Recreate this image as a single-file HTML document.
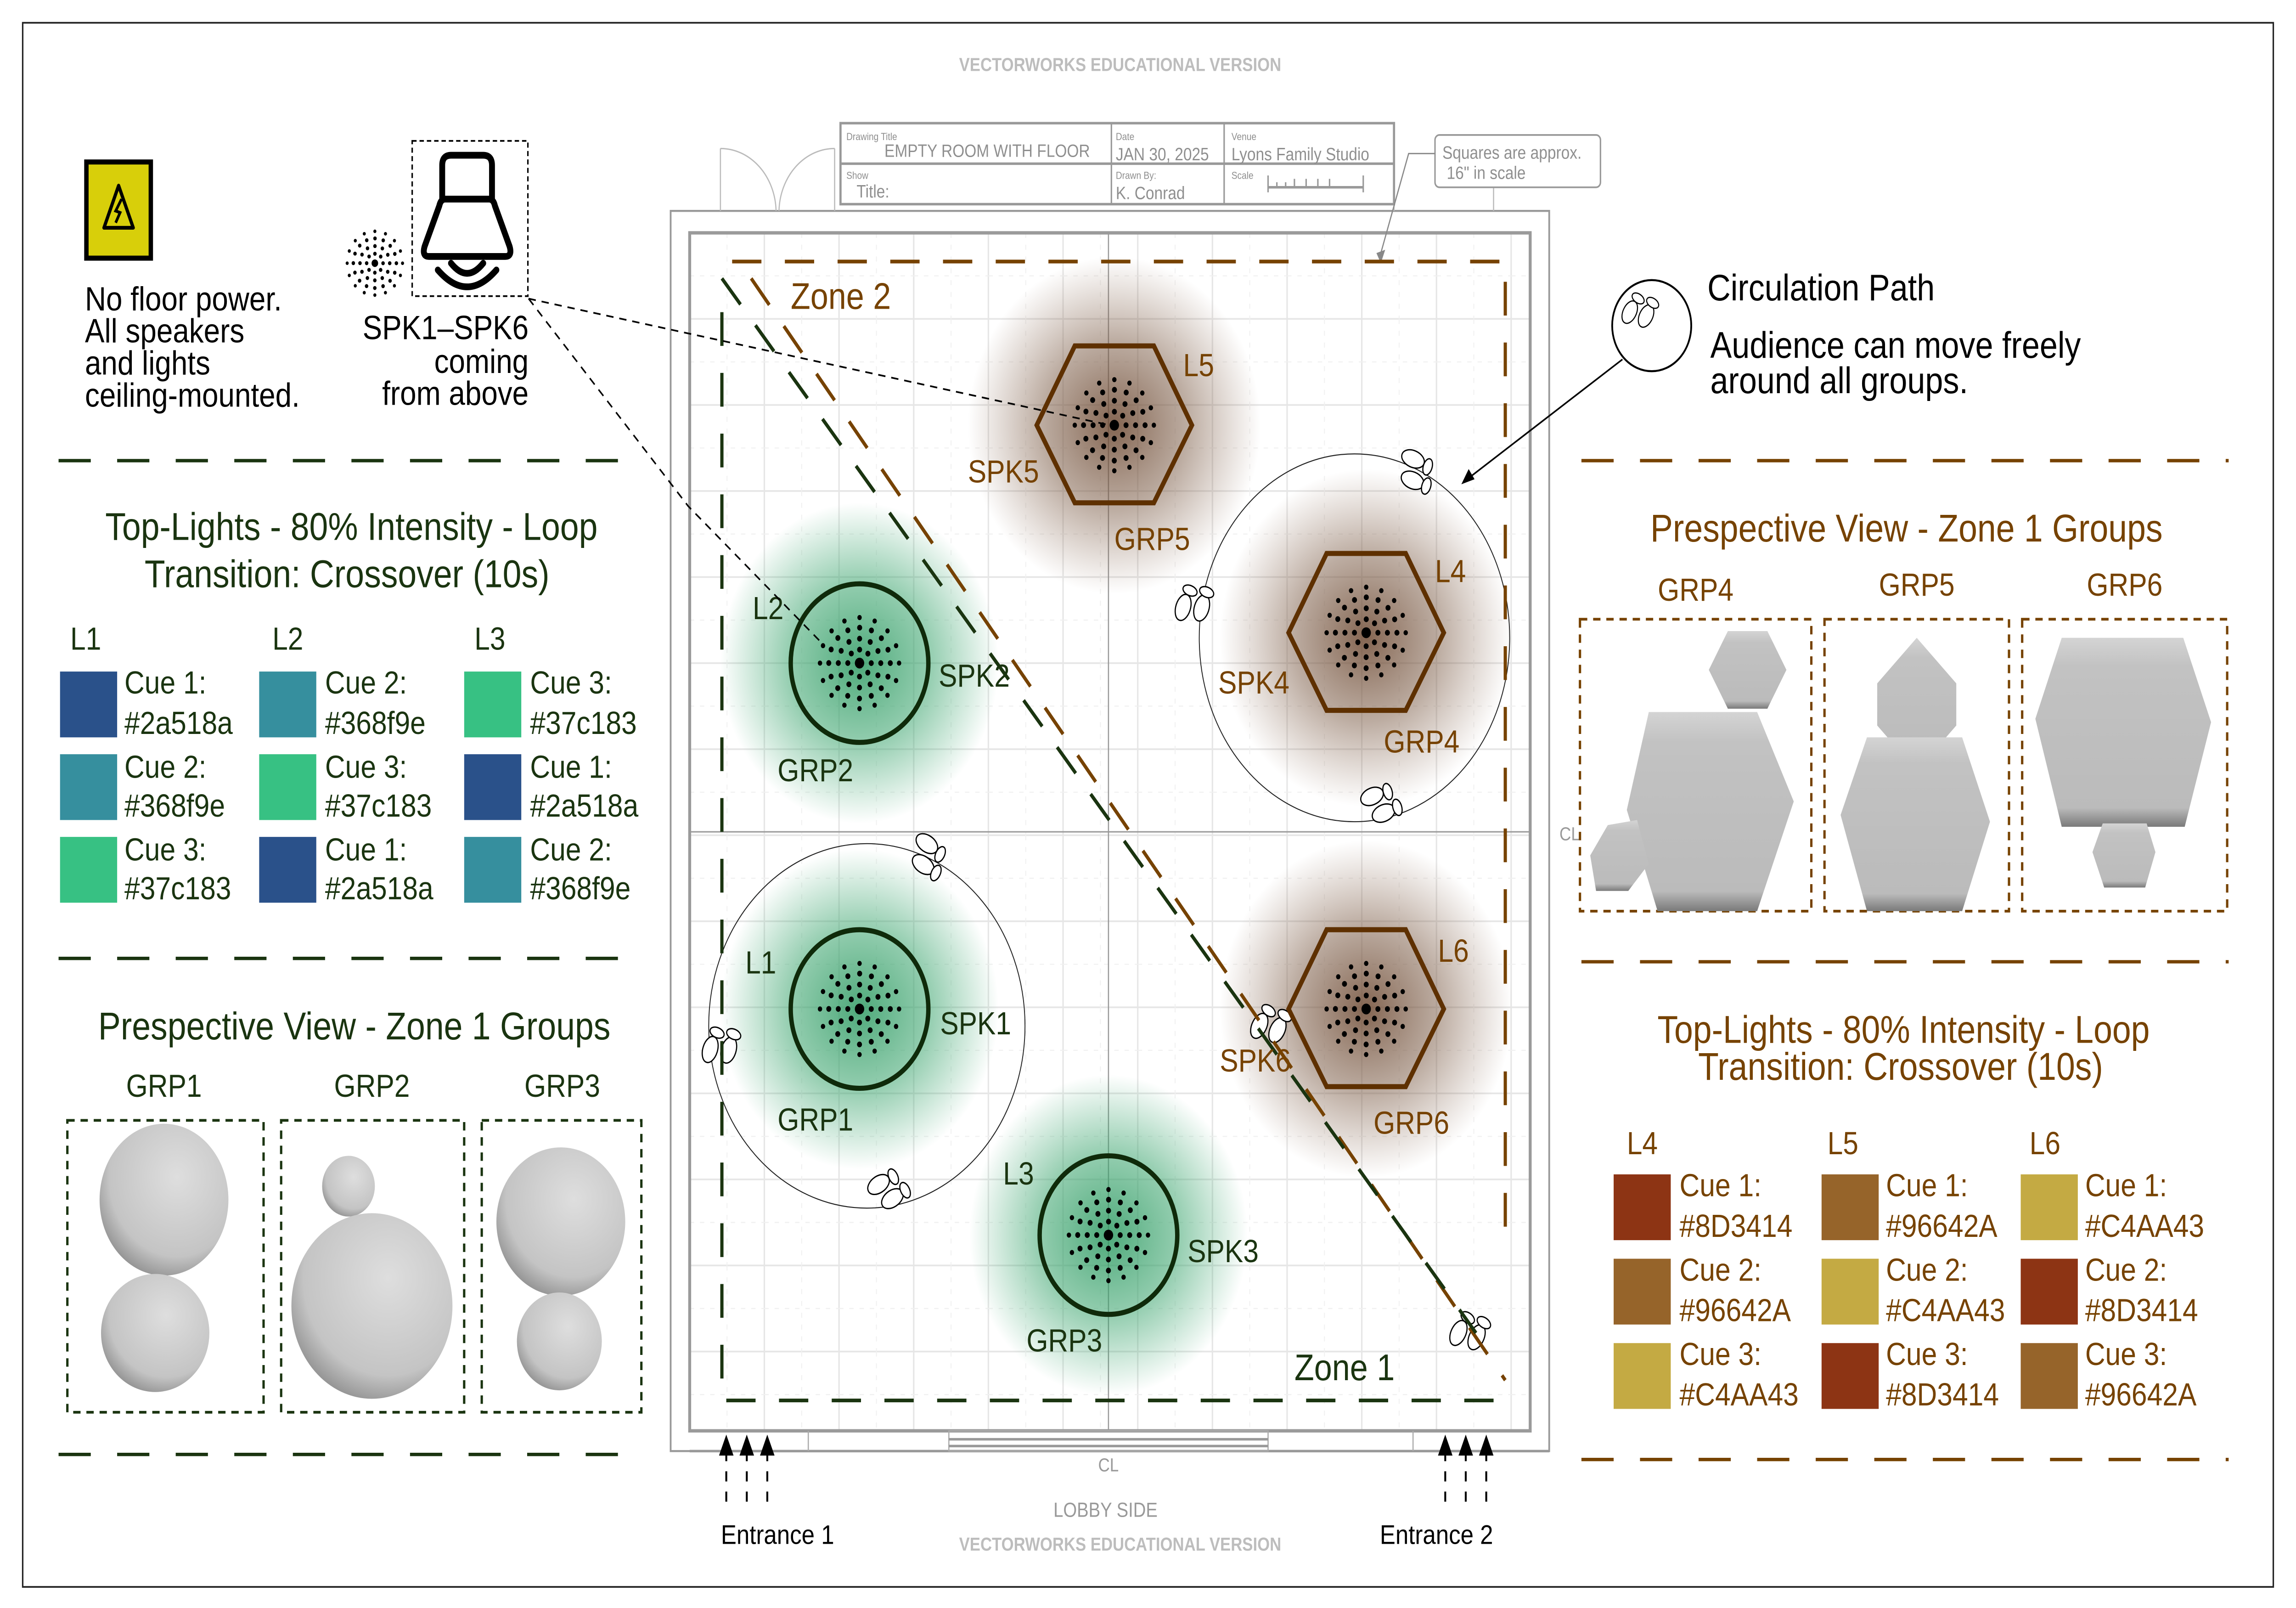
<!DOCTYPE html>
<html><head><meta charset="utf-8"><style>
html,body{margin:0;padding:0;background:#fff;width:100%;height:100%;overflow:hidden;}
svg{display:block;position:absolute;left:0;top:0;width:100vw;height:100vh;}
text{font-family:"Liberation Sans",sans-serif;}
.g{fill:#1a3410;} .b{fill:#764200;} .k{fill:#000;} .gr{fill:#8a8a8a;}
</style></head><body>
<svg xmlns="http://www.w3.org/2000/svg" viewBox="0 0 1568 953" preserveAspectRatio="none">
<defs>
<pattern id="grid" x="471" y="138" width="51" height="51" patternUnits="userSpaceOnUse">
<rect width="51" height="51" fill="none" stroke="#e6e6e6" stroke-width="1"/>
<line x1="25.5" y1="0" x2="25.5" y2="51" stroke="#f0f0f0" stroke-width="0.6" stroke-dasharray="3 4"/>
<line x1="0" y1="25.5" x2="51" y2="25.5" stroke="#f0f0f0" stroke-width="0.6" stroke-dasharray="3 4"/>
</pattern>
<radialGradient id="gglow"><stop offset="0" stop-color="#2f9a63" stop-opacity="0.85"/><stop offset="0.5" stop-color="#3aa46d" stop-opacity="0.55"/><stop offset="1" stop-color="#3aa46d" stop-opacity="0"/></radialGradient>
<radialGradient id="bglow"><stop offset="0" stop-color="#6e4a33" stop-opacity="0.85"/><stop offset="0.5" stop-color="#7a5a44" stop-opacity="0.5"/><stop offset="1" stop-color="#8a6a55" stop-opacity="0"/></radialGradient>
<radialGradient id="sph" cx="0.6" cy="0.35" r="0.75"><stop offset="0" stop-color="#dedede"/><stop offset="0.7" stop-color="#c4c4c4"/><stop offset="1" stop-color="#808080"/></radialGradient>
<linearGradient id="hexg" x1="0" y1="0" x2="0" y2="1"><stop offset="0" stop-color="#d4d4d4"/><stop offset="0.15" stop-color="#c2c2c2"/><stop offset="0.9" stop-color="#bbbbbb"/><stop offset="1" stop-color="#7a7a7a"/></linearGradient>
<g id="dots">
<circle r="3.2" fill="#000"/>
<circle r="8" fill="none" stroke="#000" stroke-width="3.4" stroke-linecap="round" stroke-dasharray="0 6.283"/>
<circle r="14.5" fill="none" stroke="#000" stroke-width="3.4" stroke-linecap="round" stroke-dasharray="0 7.59"/>
<circle r="21" fill="none" stroke="#000" stroke-width="3.4" stroke-linecap="round" stroke-dasharray="0 8.25"/>
<circle r="27" fill="none" stroke="#000" stroke-width="3" stroke-linecap="round" stroke-dasharray="0 10.6"/>
</g>
<g id="feet" fill="#fff" stroke="#000" stroke-width="0.8">
<ellipse cx="0" cy="0" rx="8" ry="5"/><ellipse cx="11" cy="1" rx="3" ry="5"/>
<ellipse cx="4" cy="12" rx="8" ry="5"/><ellipse cx="14" cy="12" rx="3" ry="5"/>
</g>
</defs>

<rect x="0" y="0" width="1568" height="953" fill="#fff"/>
<rect x="15.5" y="13.5" width="1537" height="927" fill="none" stroke="#222" stroke-width="1"/>

<text x="765" y="42" font-size="11" font-weight="bold" fill="#bdbdbd" text-anchor="middle" textLength="220" lengthAdjust="spacingAndGlyphs">VECTORWORKS EDUCATIONAL VERSION</text>

<rect x="458" y="125" width="600" height="735" fill="none" stroke="#999" stroke-width="1.2"/>
<rect x="471" y="138" width="574" height="710" fill="url(#grid)" stroke="#9a9a9a" stroke-width="2"/>
<line x1="757" y1="138" x2="757" y2="848" stroke="#999" stroke-width="0.8"/>
<line x1="471" y1="493" x2="1045" y2="493" stroke="#999" stroke-width="0.8"/>
<line x1="471" y1="860" x2="1058" y2="860" stroke="#999" stroke-width="1.5"/>
<rect x="648" y="848" width="218" height="12" fill="none" stroke="#aaa" stroke-width="0.8"/>
<line x1="648" y1="853" x2="866" y2="853" stroke="#999" stroke-width="1.5"/>
<line x1="648" y1="857" x2="866" y2="857" stroke="#999" stroke-width="1.5"/>
<line x1="552" y1="848" x2="552" y2="860" stroke="#aaa" stroke-width="0.8"/>
<line x1="965" y1="848" x2="965" y2="860" stroke="#aaa" stroke-width="0.8"/>
<path d="M492 125 V88 M492 88 A38 38 0 0 1 530 125" fill="none" stroke="#bbb" stroke-width="0.8"/>
<path d="M570 125 V88 M570 88 A38 38 0 0 0 532 125" fill="none" stroke="#bbb" stroke-width="0.8"/>
<path d="M952 125 V88 M1020 125 V88" fill="none" stroke="#bbb" stroke-width="0.8"/>

<g stroke="#999" fill="none">
<rect x="574" y="73" width="378" height="48" stroke-width="1.5"/>
<line x1="574" y1="97" x2="952" y2="97" stroke-width="1.5"/>
<line x1="759" y1="73" x2="759" y2="121"/><line x1="836" y1="73" x2="836" y2="121"/>
<line x1="866" y1="111" x2="931" y2="111" stroke-width="1.5"/>
<path d="M866 104 V114 M872 108 V111 M878 108 V111 M884 106 V111 M892 106 V111 M900 106 V111 M908 106 V111 M931 104 V114"/>
</g>
<g fill="#8f8f8f">
<text x="578" y="83" font-size="6">Drawing Title</text>
<text x="604" y="93" font-size="10.5">EMPTY ROOM WITH FLOOR</text>
<text x="762" y="83" font-size="6">Date</text>
<text x="762" y="95" font-size="10.5">JAN 30, 2025</text>
<text x="841" y="83" font-size="6">Venue</text>
<text x="841" y="95" font-size="10.5">Lyons Family Studio</text>
<text x="578" y="106" font-size="6">Show</text>
<text x="585" y="117" font-size="10.5">Title:</text>
<text x="762" y="106" font-size="6">Drawn By:</text>
<text x="762" y="118" font-size="10.5">K. Conrad</text>
<text x="841" y="106" font-size="6">Scale</text>
</g>
<rect x="980" y="80" width="113" height="31" rx="3" fill="#fff" stroke="#999" stroke-width="1"/>
<text x="985" y="94" font-size="10.5" fill="#8f8f8f">Squares are approx.</text>
<text x="988" y="106" font-size="10.5" fill="#8f8f8f">16" in scale</text>
<path d="M980 91 H962 L943 150" fill="none" stroke="#888" stroke-width="0.8"/>
<path d="M940 150 L946 148 L943 156 Z" fill="#888"/>

<ellipse cx="587" cy="393" rx="95" ry="95" fill="url(#gglow)"/>
<ellipse cx="587" cy="598" rx="95" ry="95" fill="url(#gglow)"/>
<ellipse cx="757" cy="732" rx="95" ry="95" fill="url(#gglow)"/>
<ellipse cx="761" cy="252" rx="100" ry="100" fill="url(#bglow)"/>
<ellipse cx="933" cy="378" rx="100" ry="100" fill="url(#bglow)"/>
<ellipse cx="933" cy="598" rx="100" ry="100" fill="url(#bglow)"/>

<ellipse cx="925" cy="378" rx="106" ry="109" fill="none" stroke="#222" stroke-width="0.6"/>
<ellipse cx="592" cy="608" rx="108" ry="108" fill="none" stroke="#222" stroke-width="0.6"/>
<use href="#feet" transform="translate(965,272) rotate(20)"/>
<use href="#feet" transform="translate(808,360) rotate(-70)"/>
<use href="#feet" transform="translate(937,472) rotate(-20)"/>
<use href="#feet" transform="translate(633,500) rotate(30)"/>
<use href="#feet" transform="translate(485,622) rotate(-70)"/>
<use href="#feet" transform="translate(600,702) rotate(-30)"/>
<use href="#feet" transform="translate(860,608) rotate(-60)"/>
<use href="#feet" transform="translate(996,790) rotate(-60)"/>

<path d="M500 155 H1028 V742" fill="none" stroke="#764200" stroke-width="2.2" stroke-dasharray="20 16"/>
<line x1="513" y1="165" x2="1028" y2="818" stroke="#764200" stroke-width="2.2" stroke-dasharray="20 16"/>
<path d="M493 185 V830 H1020" fill="none" stroke="#1a3410" stroke-width="2.2" stroke-dasharray="20 16"/>
<line x1="493" y1="165" x2="1008" y2="790" stroke="#1a3410" stroke-width="2.2" stroke-dasharray="20 16"/>
<text x="540" y="183" font-size="22" class="b">Zone 2</text>
<text x="884" y="818" font-size="22" class="g">Zone 1</text>

<g fill="none" stroke="#0f2a0a" stroke-width="3">
<circle cx="587" cy="393" r="47"/><circle cx="587" cy="598" r="47"/><circle cx="757" cy="732" r="47"/>
</g>
<use href="#dots" x="587" y="393"/><use href="#dots" x="587" y="598"/><use href="#dots" x="757" y="732"/>
<g fill="none" stroke="#5e3000" stroke-width="3">
<polygon points="708,252 734,205 788,205 814,252 788,298 734,298"/>
<polygon points="880,375 906,328 960,328 986,375 960,421 906,421"/>
<polygon points="880,598 906,551 960,551 986,598 960,644 906,644"/>
</g>
<use href="#dots" x="761" y="252"/><use href="#dots" x="933" y="375"/><use href="#dots" x="933" y="598"/>

<g font-size="19">
<text x="514" y="367" class="g">L2</text><text x="641" y="407" class="g">SPK2</text><text x="531" y="463" class="g">GRP2</text>
<text x="509" y="577" class="g">L1</text><text x="642" y="613" class="g">SPK1</text><text x="531" y="670" class="g">GRP1</text>
<text x="685" y="702" class="g">L3</text><text x="811" y="748" class="g">SPK3</text><text x="701" y="801" class="g">GRP3</text>
<text x="808" y="223" class="b">L5</text><text x="661" y="286" class="b">SPK5</text><text x="761" y="326" class="b">GRP5</text>
<text x="980" y="345" class="b">L4</text><text x="832" y="411" class="b">SPK4</text><text x="945" y="446" class="b">GRP4</text>
<text x="982" y="570" class="b">L6</text><text x="833" y="635" class="b">SPK6</text><text x="938" y="672" class="b">GRP6</text>
</g>

<path d="M361 177 L758 252" fill="none" stroke="#000" stroke-width="1" stroke-dasharray="5 4"/>
<path d="M361 177 L470 300 L560 380" fill="none" stroke="#000" stroke-width="1" stroke-dasharray="5 4"/>

<g stroke="#000" stroke-width="1.3" fill="#000">
<path d="M496 890 V858 M510 890 V858 M524 890 V858" stroke-dasharray="6 6"/>
<path d="M492 862 L496 852 L500 862Z M506 862 L510 852 L514 862Z M520 862 L524 852 L528 862Z"/>
<path d="M987 890 V858 M1001 890 V858 M1015 890 V858" stroke-dasharray="6 6"/>
<path d="M983 862 L987 852 L991 862Z M997 862 L1001 852 L1005 862Z M1011 862 L1015 852 L1019 862Z"/>
</g>
<text x="531" y="915" font-size="16" class="k" text-anchor="middle">Entrance 1</text>
<text x="981" y="915" font-size="16" class="k" text-anchor="middle">Entrance 2</text>
<text x="757" y="872" font-size="11" fill="#999" text-anchor="middle">CL</text>
<text x="1065" y="498" font-size="11" fill="#999">CL</text>
<text x="755" y="899" font-size="12" fill="#999" text-anchor="middle">LOBBY SIDE</text>
<text x="765" y="919" font-size="11" font-weight="bold" fill="#bdbdbd" text-anchor="middle" textLength="220" lengthAdjust="spacingAndGlyphs">VECTORWORKS EDUCATIONAL VERSION</text>

<rect x="59" y="96" width="44" height="57" fill="#d8cf0a" stroke="#000" stroke-width="3"/>
<path d="M81 110 L71 135 H91 Z" fill="none" stroke="#000" stroke-width="2.2" stroke-linejoin="round"/>
<path d="M83 118 L79 125 L82 126 L79 132" fill="none" stroke="#000" stroke-width="1.8"/>
<g font-size="20" class="k">
<text x="58" y="184">No floor power.</text>
<text x="58" y="203">All speakers</text>
<text x="58" y="222">and lights</text>
<text x="58" y="241">ceiling-mounted.</text>
<text x="361" y="201" text-anchor="end">SPK1–SPK6</text>
<text x="361" y="221" text-anchor="end">coming</text>
<text x="361" y="240" text-anchor="end">from above</text>
</g>
<rect x="281.5" y="83.5" width="79" height="92" fill="none" stroke="#000" stroke-width="1" stroke-dasharray="3 2"/>
<path d="M302 119 V98 Q302 92 308 92 H330 Q336 92 336 98 V119" fill="none" stroke="#000" stroke-width="4"/>
<path d="M304 118 H334 Q337 118 338 122 L348 146 Q350 152 345 152 H293 Q288 152 290 146 L300 122 Q301 118 304 118Z" fill="none" stroke="#000" stroke-width="4"/>
<path d="M308 156 Q319 168 330 156" fill="none" stroke="#000" stroke-width="4" stroke-linecap="round"/>
<path d="M299 160 Q319 180 339 160" fill="none" stroke="#000" stroke-width="4" stroke-linecap="round"/>
<g transform="translate(256,156) scale(0.7)"><use href="#dots"/></g>

<line x1="40" y1="273" x2="440" y2="273" stroke="#1a3410" stroke-width="2" stroke-dasharray="22 18"/>
<text x="240" y="320" font-size="23" class="g" text-anchor="middle">Top-Lights - 80% Intensity - Loop</text>
<text x="237" y="348" font-size="23" class="g" text-anchor="middle">Transition: Crossover (10s)</text>
<g font-size="19" class="g">
<text x="48" y="385">L1</text><text x="186" y="385">L2</text><text x="324" y="385">L3</text>
</g>
<rect x="41" y="398" width="39" height="39" fill="#2a518a"/>
<rect x="41" y="447" width="39" height="39" fill="#368f9e"/>
<rect x="41" y="496" width="39" height="39" fill="#37c183"/>
<rect x="177" y="398" width="39" height="39" fill="#368f9e"/>
<rect x="177" y="447" width="39" height="39" fill="#37c183"/>
<rect x="177" y="496" width="39" height="39" fill="#2a518a"/>
<rect x="317" y="398" width="39" height="39" fill="#37c183"/>
<rect x="317" y="447" width="39" height="39" fill="#2a518a"/>
<rect x="317" y="496" width="39" height="39" fill="#368f9e"/>
<g font-size="19" class="g">
<text x="85" y="411">Cue 1:</text><text x="85" y="435">#2a518a</text>
<text x="85" y="461">Cue 2:</text><text x="85" y="484">#368f9e</text>
<text x="85" y="510">Cue 3:</text><text x="85" y="533">#37c183</text>
<text x="222" y="411">Cue 2:</text><text x="222" y="435">#368f9e</text>
<text x="222" y="461">Cue 3:</text><text x="222" y="484">#37c183</text>
<text x="222" y="510">Cue 1:</text><text x="222" y="533">#2a518a</text>
<text x="362" y="411">Cue 3:</text><text x="362" y="435">#37c183</text>
<text x="362" y="461">Cue 1:</text><text x="362" y="484">#2a518a</text>
<text x="362" y="510">Cue 2:</text><text x="362" y="533">#368f9e</text>
</g>
<line x1="40" y1="568" x2="440" y2="568" stroke="#1a3410" stroke-width="2" stroke-dasharray="22 18"/>
<text x="242" y="616" font-size="23" class="g" text-anchor="middle">Prespective View - Zone 1 Groups</text>
<g font-size="19" class="g" text-anchor="middle">
<text x="112" y="650">GRP1</text><text x="254" y="650">GRP2</text><text x="384" y="650">GRP3</text>
</g>
<g fill="none" stroke="#1a3410" stroke-width="1.6" stroke-dasharray="5 4">
<rect x="46" y="664" width="134" height="173"/><rect x="192" y="664" width="125" height="173"/><rect x="329" y="664" width="109" height="173"/>
</g>
<g fill="url(#sph)">
<ellipse cx="112" cy="711" rx="44" ry="45"/><ellipse cx="106" cy="790" rx="37" ry="35"/>
<ellipse cx="238" cy="703" rx="18" ry="18"/><ellipse cx="254" cy="774" rx="55" ry="55"/>
<ellipse cx="383" cy="724" rx="44" ry="44"/><ellipse cx="382" cy="795" rx="29" ry="29"/>
</g>
<line x1="40" y1="862" x2="440" y2="862" stroke="#1a3410" stroke-width="2" stroke-dasharray="22 18"/>

<circle cx="1128" cy="193" r="27" fill="#fff" stroke="#000" stroke-width="1.2"/>
<use href="#feet" transform="translate(1113,185) rotate(-60) scale(0.9)"/>
<line x1="1108" y1="213" x2="1002" y2="284" stroke="#000" stroke-width="1"/>
<path d="M998 287 L1003 278 L1007 284 Z" fill="#000"/>
<g font-size="22" class="k">
<text x="1166" y="178">Circulation Path</text>
<text x="1168" y="212">Audience can move freely</text>
<text x="1168" y="233">around all groups.</text>
</g>
<line x1="1080" y1="273" x2="1522" y2="273" stroke="#764200" stroke-width="2" stroke-dasharray="22 18"/>
<text x="1302" y="321" font-size="23" class="b" text-anchor="middle">Prespective View - Zone 1 Groups</text>
<g font-size="19" class="b" text-anchor="middle">
<text x="1158" y="356">GRP4</text><text x="1309" y="353">GRP5</text><text x="1451" y="353">GRP6</text>
</g>
<g fill="none" stroke="#764200" stroke-width="1.6" stroke-dasharray="5 4">
<rect x="1079" y="367" width="158" height="173"/><rect x="1246" y="367" width="126" height="173"/><rect x="1381" y="367" width="140" height="173"/>
</g>
<g fill="url(#hexg)">
<polygon points="1167,397 1180,374 1207,374 1220,397 1207,420 1180,420"/>
<polygon points="1111,480 1126,422 1200,422 1225,475 1200,540 1132,540"/>
<polygon points="1086,507 1098,489 1118,486 1126,512 1112,528 1090,528"/>
<polygon points="1282,405 1309,378 1336,405 1336,430 1309,457 1282,430"/>
<polygon points="1257,483 1275,437 1340,437 1359,487 1340,540 1275,540"/>
<polygon points="1390,426 1408,378 1491,378 1510,428 1492,490 1408,490"/>
<polygon points="1429,505 1436,488 1466,488 1472,505 1465,526 1437,526"/>
</g>
<line x1="1080" y1="570" x2="1522" y2="570" stroke="#764200" stroke-width="2" stroke-dasharray="22 18"/>
<text x="1300" y="618" font-size="23" class="b" text-anchor="middle">Top-Lights - 80% Intensity - Loop</text>
<text x="1298" y="640" font-size="23" class="b" text-anchor="middle">Transition: Crossover (10s)</text>
<g font-size="19" class="b">
<text x="1111" y="684">L4</text><text x="1248" y="684">L5</text><text x="1386" y="684">L6</text>
</g>
<rect x="1102" y="696" width="39" height="39" fill="#8D3414"/>
<rect x="1102" y="746" width="39" height="39" fill="#96642A"/>
<rect x="1102" y="796" width="39" height="39" fill="#C4AA43"/>
<rect x="1244" y="696" width="39" height="39" fill="#96642A"/>
<rect x="1244" y="746" width="39" height="39" fill="#C4AA43"/>
<rect x="1244" y="796" width="39" height="39" fill="#8D3414"/>
<rect x="1380" y="696" width="39" height="39" fill="#C4AA43"/>
<rect x="1380" y="746" width="39" height="39" fill="#8D3414"/>
<rect x="1380" y="796" width="39" height="39" fill="#96642A"/>
<g font-size="19" class="b">
<text x="1147" y="709">Cue 1:</text><text x="1147" y="733">#8D3414</text>
<text x="1147" y="759">Cue 2:</text><text x="1147" y="783">#96642A</text>
<text x="1147" y="809">Cue 3:</text><text x="1147" y="833">#C4AA43</text>
<text x="1288" y="709">Cue 1:</text><text x="1288" y="733">#96642A</text>
<text x="1288" y="759">Cue 2:</text><text x="1288" y="783">#C4AA43</text>
<text x="1288" y="809">Cue 3:</text><text x="1288" y="833">#8D3414</text>
<text x="1424" y="709">Cue 1:</text><text x="1424" y="733">#C4AA43</text>
<text x="1424" y="759">Cue 2:</text><text x="1424" y="783">#8D3414</text>
<text x="1424" y="809">Cue 3:</text><text x="1424" y="833">#96642A</text>
</g>
<line x1="1080" y1="865" x2="1522" y2="865" stroke="#764200" stroke-width="2" stroke-dasharray="22 18"/>
</svg>
</body></html>
